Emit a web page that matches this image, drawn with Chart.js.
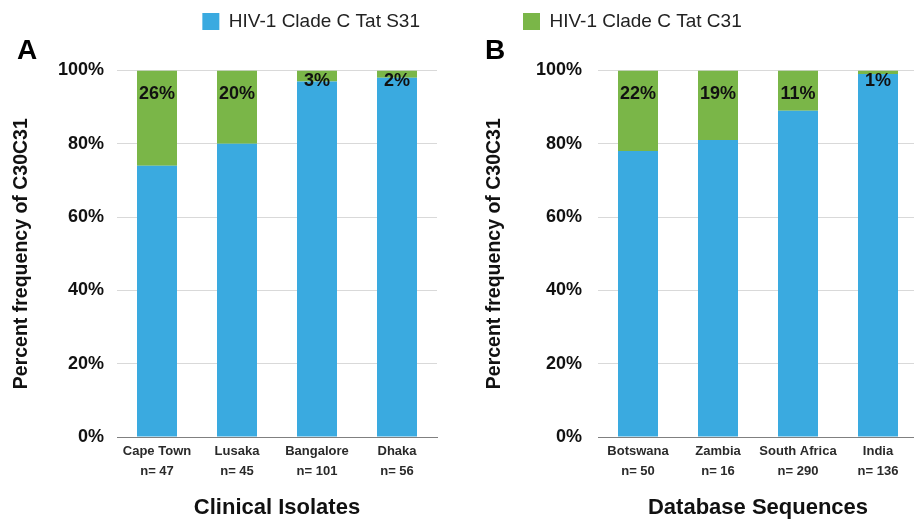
<!DOCTYPE html>
<html><head><meta charset="utf-8">
<script src="https://cdn.jsdelivr.net/npm/chart.js@4.4.1/dist/chart.umd.min.js"></script>
<style>
html,body{margin:0;padding:0;background:#fff;overflow:hidden;width:914px;height:523px;}
#wrap{position:relative;width:914px;height:523px;overflow:hidden;background:#fff;}
#cA{position:absolute;left:0;top:0;}
#cB{position:absolute;left:457px;top:0;}
</style></head><body>
<div id="wrap"><canvas id="cA" width="457" height="523"></canvas><canvas id="cB" width="481" height="523"></canvas></div>
<script>
// ---- data ----
const seriesNames = ['HIV-1 Clade C Tat S31', 'HIV-1 Clade C Tat C31'];
const clinicalSites = ['Cape Town', 'Lusaka', 'Bangalore', 'Dhaka'];
const clinicalN = [47, 45, 101, 56];
const clinicalS31 = [74, 80, 97, 98];
const clinicalC31 = [26, 20, 3, 2];
const dbRegions = ['Botswana', 'Zambia', 'South Africa', 'India'];
const dbN = [50, 16, 290, 136];
const dbS31 = [78, 81, 89, 99];
const dbC31 = [22, 19, 11, 1];
const yTicks = [0, 20, 40, 60, 80, 100];
const yTitle = 'Percent frequency of C30C31';
const xTitleA = 'Clinical Isolates';
const xTitleB = 'Database Sequences';

const F = '"Liberation Sans", Arial, Helvetica, sans-serif';
const BLUE = '#3AAAE0';
const GREEN = '#7AB648';

const pctLabels = {
  id: 'pctLabels',
  afterDatasetsDraw(chart) {
    const meta = chart.getDatasetMeta(1);
    const vals = chart.data.datasets[1].data;
    const ctx = chart.ctx;
    ctx.save();
    ctx.font = 'bold 18px ' + F;
    ctx.fillStyle = '#111';
    ctx.textAlign = 'center';
    ctx.textBaseline = 'middle';
    meta.data.forEach((bar, i) => {
      const h = bar.base - bar.y;
      const y = bar.y + (h > 30 ? 24 : 11);
      ctx.fillText(vals[i] + '%', bar.x, y);
    });
    ctx.restore();
  }
};

const legendShift = {
  id: 'legendShift',
  afterLayout(chart, args, o) {
    const lg = chart.legend;
    if (lg && o && o.dx) { lg.left += o.dx; lg.right += o.dx; }
  }
};

function makeChart(id, cats, ns, s31, c31, cfg) {
  return new Chart(document.getElementById(id), {
    type: 'bar',
    data: {
      labels: cats.map((c, i) => [c, 'n= ' + ns[i]]),
      datasets: [
        { label: seriesNames[0], data: s31, backgroundColor: BLUE, borderWidth: 0, barPercentage: 0.5, categoryPercentage: 1 },
        { label: seriesNames[1], data: c31, backgroundColor: GREEN, borderWidth: 0, barPercentage: 0.5, categoryPercentage: 1 }
      ]
    },
    options: {
      responsive: false,
      animation: false,
      devicePixelRatio: 1,
      layout: { padding: { top: 2, left: cfg.padL, right: cfg.padR, bottom: 0 } },
      plugins: {
        tooltip: { enabled: false },
        legend: {
          display: true, position: 'top', align: cfg.legendAlign,
          labels: {
            filter: it => it.datasetIndex === cfg.legendIdx,
            boxWidth: 17, boxHeight: 17, padding: 10, color: '#222',
            font: { family: F, size: 19 }
          }
        },
        legendShift: { dx: cfg.legendDx },
        title: {
          display: true, text: cfg.letter, align: 'start', position: 'top', weight: 500, fullSize: true,
          color: '#000', font: { family: F, weight: 'bold', size: 28, lineHeight: 0.8 },
          padding: { top: -1, bottom: 8 }
        }
      },
      scales: {
        x: {
          stacked: true,
          grid: { display: false, drawTicks: false, tickLength: 0 },
          border: { display: true, color: '#808080', width: 1 },
          ticks: { color: '#2a2a2a', padding: 5, maxRotation: 0, autoSkip: false,
            font: { family: F, weight: 'bold', size: 13, lineHeight: 1.5 } },
          title: { display: true, text: cfg.xTitle, color: '#111',
            font: { family: F, weight: 'bold', size: 22, lineHeight: 1.2 }, padding: { top: 0, bottom: 2 } },
          afterFit(s) { s.height = 86; }
        },
        y: {
          stacked: true, min: 0, max: 100,
          grid: { color: c => (c.tick && c.tick.value === 0) ? '#808080' : '#d9d9d9', lineWidth: 1, drawTicks: false, tickLength: 0 },
          border: { display: false },
          ticks: { padding: cfg.yTickPad, color: '#111', font: { family: F, weight: 'bold', size: 18 },
            callback: v => v + '%' },
          afterBuildTicks(s) { s.ticks = yTicks.map(v => ({ value: v })); },
          title: { display: true, text: yTitle, color: '#111',
            font: { family: F, weight: 'bold', size: 19.5, lineHeight: 1 }, padding: { top: cfg.yTitlePad, bottom: 0 } },
          afterFit(s) { s.width = cfg.yWidth; }
        }
      }
    },
    plugins: [pctLabels, legendShift]
  });
}

makeChart('cA', clinicalSites, clinicalN, clinicalS31, clinicalC31, {
  letter: 'A', padL: 17, padR: 20, yWidth: 100, yTickPad: 13, yTitlePad: -5,
  xTitle: xTitleA, legendIdx: 0, legendAlign: 'end', legendDx: -7
});
makeChart('cB', dbRegions, dbN, dbS31, dbC31, {
  letter: 'B', padL: 28, padR: 20, yWidth: 113, yTickPad: 16, yTitlePad: 0,
  xTitle: xTitleB, legendIdx: 1, legendAlign: 'start', legendDx: 28
});
</script>
</body></html>
